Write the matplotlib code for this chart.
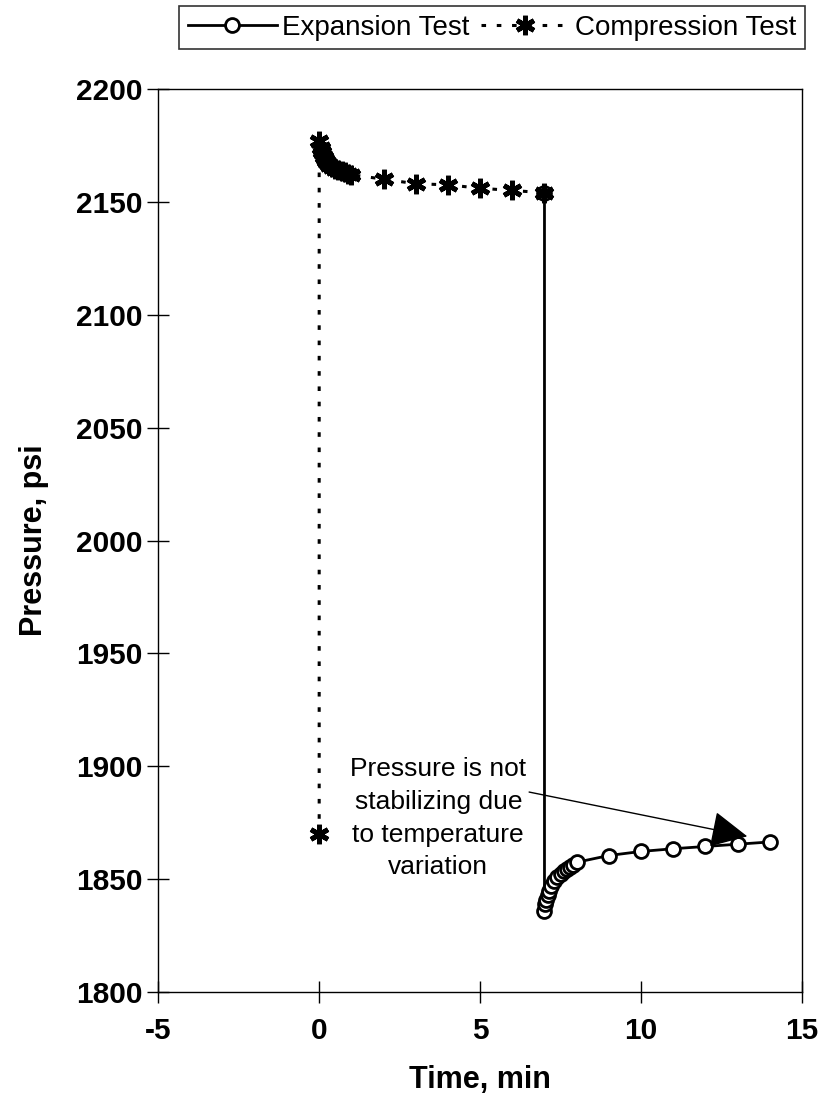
import matplotlib
matplotlib.use("Agg")
import matplotlib.pyplot as plt

# ======================
# Data
# ======================

comp_time = [0, 0, 0.05, 0.1, 0.15, 0.2, 0.3, 0.4, 0.5, 0.6, 0.7, 0.8, 0.9, 1.0,
             2, 3, 4, 5, 6, 7]
comp_pressure = [1870, 2177, 2174, 2172, 2170, 2168, 2166.5, 2165.5, 2164.5, 2164,
                 2163.5, 2163, 2162.5, 2162, 2160, 2158, 2157.5, 2156, 2155, 2154]

exp_time = [7, 7, 7.02, 7.05, 7.1, 7.15, 7.2, 7.3, 7.4, 7.5, 7.6, 7.7, 7.8, 7.9,
            8, 9, 10, 11, 12, 13, 14]
exp_pressure = [2154, 1836, 1839, 1841, 1843, 1845, 1847, 1849, 1851, 1852.5,
                1853.5, 1854.5, 1855.5, 1856.5, 1857.5, 1860.5, 1862.3, 1863.5,
                1864.5, 1865.5, 1866.5]

x_ticks = [-5, 0, 5, 10, 15]
y_ticks = [1800, 1850, 1900, 1950, 2000, 2050, 2100, 2150, 2200]

note_text = "Pressure is not\nstabilizing due\nto temperature\nvariation"

plt.rcParams["font.family"] = ["Liberation Sans", "DejaVu Sans"]
plt.rcParams["axes.unicode_minus"] = False

fig = plt.figure(figsize=(8.2, 11.11), dpi=100)
ax = fig.add_axes([0.193, 0.107, 0.785, 0.813])

ax.plot(exp_time, exp_pressure, color="black", lw=2, marker="o", ms=10,
        mfc="white", mec="black", mew=2, label="Expansion Test", zorder=3)
ax.plot(comp_time, comp_pressure, color="black", lw=2.2,
        linestyle=(0, (1.5, 3.5)), marker=(6, 2, 0), ms=14, mew=3.5,
        label="Compression Test", zorder=4)

ax.annotate(note_text, xy=(13.3, 1869), xytext=(3.7, 1877),
            ha="center", va="center", fontsize=19, linespacing=1.45,
            arrowprops=dict(arrowstyle="-|>", mutation_scale=58, lw=1,
                            color="black", shrinkA=0, shrinkB=0,
                            relpos=(1.0, 0.72)))

ax.set_xlim(-5, 15)
ax.set_ylim(1800, 2200)
ax.set_xticks(x_ticks)
ax.set_yticks(y_ticks)
ax.tick_params(direction="inout", length=16, width=1, labelsize=21.5, pad=3)
ax.tick_params(axis="x", pad=10)
for lbl in ax.get_xticklabels() + ax.get_yticklabels():
    lbl.set_fontweight("bold")
for s in ax.spines.values():
    s.set_linewidth(1)

ax.set_xlabel("Time, min", fontsize=22, fontweight="bold", labelpad=14)
ax.set_ylabel("Pressure, psi", fontsize=22, fontweight="bold", labelpad=20)

leg = fig.legend(loc="center", bbox_to_anchor=(0.6, 0.975), ncol=2,
                 fontsize=20, frameon=True, fancybox=False, borderpad=0.3,
                 handlelength=3.2, columnspacing=0.4, handletextpad=0.2)
leg.get_frame().set_edgecolor("black")
leg.get_frame().set_linewidth(1.2)

fig.savefig("out.png", dpi=100)
